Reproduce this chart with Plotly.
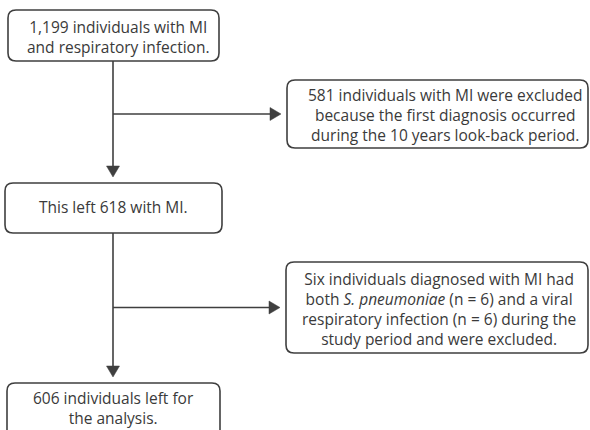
import plotly.graph_objects as go

# ---- content ----
node_ids = ["start", "excl1", "mid", "excl2", "final"]
node_texts = [
    "1,199 individuals with MI<br>and respiratory infection.",
    "581 individuals with MI were excluded<br>because the first diagnosis occurred<br>during the 10 years look-back period.",
    "This left 618 with MI.",
    "Six individuals diagnosed with MI had<br>both <i>S. pneumoniae</i> (n = 6) and a viral<br>respiratory infection (n = 6) during the<br>study period and were excluded.",
    "606 individuals left for<br>the analysis.",
]
edges = [("start", "mid"), ("start", "excl1"), ("mid", "final"), ("mid", "excl2")]

# ---- layout (pixel geometry) ----
box_geom = {
    "start": (8, 10, 219, 61),
    "excl1": (287, 80, 588, 148),
    "mid": (5, 183, 222, 233),
    "excl2": (286, 262, 588, 353),
    "final": (7, 383, 220, 450),
}
text_dx = {"start": 4, "excl1": 7, "mid": 0, "excl2": 2, "final": 0}
text_y = {"start": 37, "excl1": 115, "mid": 207, "excl2": 309, "final": 408}
spine_x = 113
LINE = "#3f3f3f"
TEXT = "#3a3a3a"
R = 8

fig = go.Figure()
shapes = []
annotations = []


def rounded(x0, y0, x1, y1, r):
    return (f"M {x0+r},{y0} L {x1-r},{y0} Q {x1},{y0} {x1},{y0+r} "
            f"L {x1},{y1-r} Q {x1},{y1} {x1-r},{y1} L {x0+r},{y1} "
            f"Q {x0},{y1} {x0},{y1-r} L {x0},{y0+r} Q {x0},{y0} {x0+r},{y0} Z")


for nid, txt in zip(node_ids, node_texts):
    x0, y0, x1, y1 = box_geom[nid]
    shapes.append(dict(type="path", path=rounded(x0, y0, x1, y1, R),
                       line=dict(color=LINE, width=1.6), fillcolor="white",
                       layer="below"))
    annotations.append(dict(x=(x0 + x1) / 2 + text_dx[nid], y=text_y[nid], text=txt,
                            showarrow=False, xanchor="center", yanchor="middle",
                            font=dict(family="Open Sans", size=15.5, color=TEXT),
                            align="center"))

AH_L, AH_W = 11, 6.5
for src, dst in edges:
    sx0, sy0, sx1, sy1 = box_geom[src]
    dx0, dy0, dx1, dy1 = box_geom[dst]
    if dx0 > 250:  # side branch
        y = (dy0 + dy1) / 2
        tip = dx0 - 6
        shapes.append(dict(type="line", x0=spine_x, y0=y, x1=tip - AH_L, y1=y,
                           line=dict(color=LINE, width=1.6)))
        shapes.append(dict(type="path",
                           path=f"M {tip},{y} L {tip-AH_L},{y-AH_W} L {tip-AH_L},{y+AH_W} Z",
                           fillcolor=LINE, line=dict(color=LINE, width=0.5)))
    else:
        tip = dy0 - 6
        shapes.append(dict(type="line", x0=spine_x, y0=sy1, x1=spine_x, y1=tip - AH_L,
                           line=dict(color=LINE, width=1.6)))
        shapes.append(dict(type="path",
                           path=f"M {spine_x},{tip} L {spine_x-AH_W},{tip-AH_L} L {spine_x+AH_W},{tip-AH_L} Z",
                           fillcolor=LINE, line=dict(color=LINE, width=0.5)))

fig.update_layout(
    width=590, height=430,
    margin=dict(l=0, r=0, t=0, b=0),
    paper_bgcolor="white", plot_bgcolor="white",
    xaxis=dict(range=[0, 590], visible=False, fixedrange=True),
    yaxis=dict(range=[430, 0], visible=False, fixedrange=True),
    shapes=shapes, annotations=annotations, showlegend=False,
)
fig.write_html("out.html", config={"displayModeBar": False},
               post_script="document.body.style.margin='0';document.body.style.overflow='hidden';")
